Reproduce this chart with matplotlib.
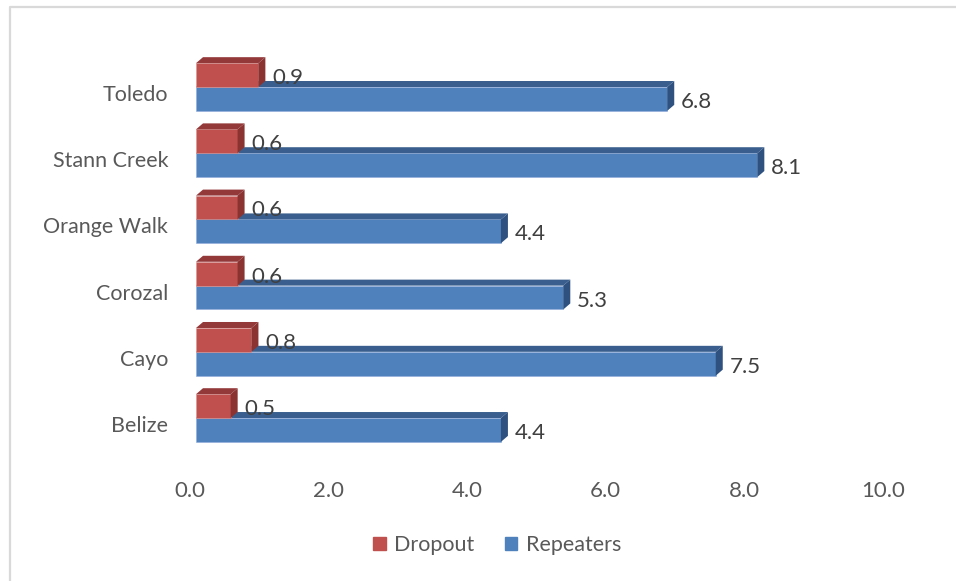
import matplotlib
matplotlib.use("Agg")
import matplotlib.pyplot as plt
import matplotlib.transforms as mtransforms
from matplotlib.patches import Polygon, Patch
from matplotlib.lines import Line2D

categories = ["Belize", "Cayo", "Corozal", "Orange Walk", "Stann Creek", "Toledo"]
dropout = [0.5, 0.8, 0.6, 0.6, 0.6, 0.9]
repeaters = [4.4, 7.5, 5.3, 4.4, 8.1, 6.8]
x_ticks = [0, 2, 4, 6, 8, 10]

plt.rcParams['font.family'] = ['Lato', 'DejaVu Sans']

RED = ("#C0504D", "#94393A", "#8A3331")
BLUE = ("#4F81BD", "#3A5F8E", "#2E5180")
TEXT = "#595959"
LABEL = "#404040"

fig = plt.figure(figsize=(9.56, 5.81), dpi=100)
W, H = 956, 581
ax = fig.add_axes([196 / W, 1 - 470 / H, 693 / W, 430 / H])
ax.set_xlim(0, 10)
ax.set_ylim(-0.785, 5.71)
for s in ax.spines.values():
    s.set_visible(False)

# depth of the fake 3D bars, in pixels -> data units
p0 = ax.transData.transform((0, 0))
d = ax.transData.inverted().transform(p0 + [7, 6])
dx, dy = d[0], d[1]

bh = 0.36
pos = list(range(len(categories)))


def bar3d(series, offset, colors):
    front, top, side = colors
    ys = [p + offset for p in pos]
    ax.barh(ys, series, height=bh, align='edge', color=front,
            edgecolor="#8FAADC" if front == BLUE[0] else "#D99694", linewidth=0.4, zorder=2)
    for y0, w in zip(ys, series):
        ax.add_patch(Polygon([(0, y0 + bh), (w, y0 + bh), (w + dx, y0 + bh + dy), (dx, y0 + bh + dy)],
                             closed=True, fc=top, lw=0, zorder=2))
        ax.add_patch(Polygon([(w, y0), (w + dx, y0 + dy), (w + dx, y0 + bh + dy), (w, y0 + bh)],
                             closed=True, fc=side, lw=0, zorder=2))


bar3d(repeaters, -bh, BLUE)
bar3d(dropout, 0, RED)

px = 72 / 100
for p, v in zip(pos, dropout):
    ax.annotate(f"{v:.1f}", (v, p + bh / 2), xytext=(14 * px, -3 * px), textcoords='offset points',
                ha='left', va='center', fontsize=16, color=LABEL, zorder=5)
for p, v in zip(pos, repeaters):
    ax.annotate(f"{v:.1f}", (v, p - bh / 2), xytext=(14 * px, -3 * px), textcoords='offset points',
                ha='left', va='center', fontsize=16, color=LABEL, zorder=5)

ax.set_yticks(pos)
ax.set_yticklabels(categories, fontsize=15.5, color=TEXT)
ax.set_xticks(x_ticks)
ax.set_xticklabels([f"{t:.1f}" for t in x_ticks], fontsize=16, color=TEXT)
ax.tick_params(axis='both', length=0)
ax.tick_params(axis='y', pad=20)
ax.tick_params(axis='x', pad=8)

shift_y = mtransforms.ScaledTranslation(0, -6 / 100, fig.dpi_scale_trans)
for lab in ax.get_yticklabels():
    lab.set_transform(lab.get_transform() + shift_y)
shift_x = mtransforms.ScaledTranslation(-6 / 100, 0, fig.dpi_scale_trans)
for lab in ax.get_xticklabels():
    lab.set_transform(lab.get_transform() + shift_x)

handles = [Patch(color=RED[0], label="Dropout"), Patch(color=BLUE[0], label="Repeaters")]
fig.legend(handles=handles, loc='center', bbox_to_anchor=(497 / W, 1 - 545 / H), ncol=2,
           frameon=False, fontsize=15.5, handlelength=0.6, handleheight=0.6,
           handletextpad=0.4, columnspacing=1.4, labelcolor=TEXT)

# chart border (only top and left edges visible)
fig.add_artist(Line2D([10 / W, 10 / W, 1], [0, 1 - 7 / H, 1 - 7 / H], transform=fig.transFigure,
                      color="#D9D9D9", lw=1.6))

fig.savefig("out.png", dpi=100)
